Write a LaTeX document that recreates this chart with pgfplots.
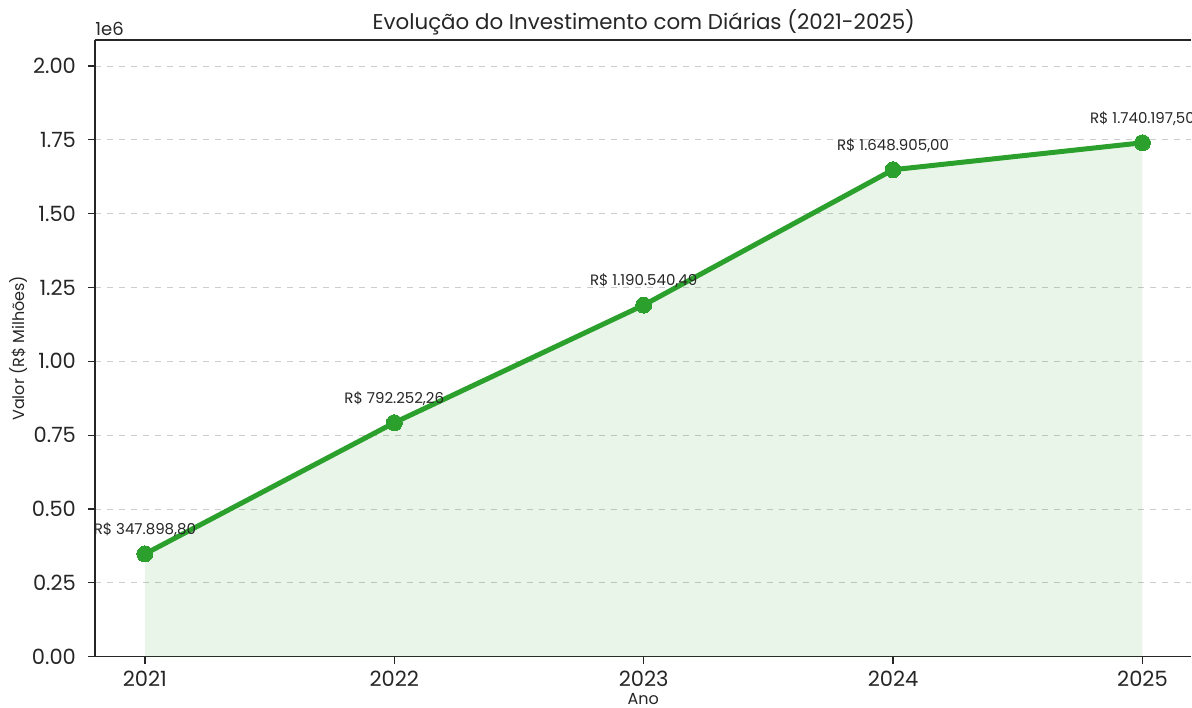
\documentclass[border=0pt]{standalone}
\usepackage{fontspec}
\setmainfont{Poppins}
\usepackage{pgfplots}
\pgfplotsset{compat=1.18}
\definecolor{lgreen}{HTML}{2CA02C}
\begin{document}
\begin{tikzpicture}
% fixed page frame
\path (0,0) rectangle (596pt,354pt);
\begin{axis}[
  at={(47.5pt,25.5pt)}, anchor=south west,
  scale only axis, width=548.5pt, height=308.5pt,
  xmin=2020.7996, xmax=2025.1964, ymin=0, ymax=2088237,
  axis x line*=bottom, axis y line*=left,
  xtick={2021,2022,2023,2024,2025},
  xticklabels={2021,2022,2023,2024,2025},
  ytick={0,250000,500000,750000,1000000,1250000,1500000,1750000,2000000},
  yticklabels={0.00,0.25,0.50,0.75,1.00,1.25,1.50,1.75,2.00},
  scaled y ticks=false,
  /pgf/number format/assume math mode=true,
  ymajorgrids,
  grid style={black!20, dashed, line width=0.5pt},
  tick align=outside, major tick length=3.5pt,
  tick style={black!85, line width=0.6pt},
  axis line style={-, black!85, line width=0.6pt},
  ticklabel style={font=\fontsize{10.5}{12}\selectfont, text=black!85},
  yticklabel style={xshift=-2.5pt},
  title={Evolução do Investimento com Diárias (2021-2025)},
  title style={font=\fontsize{10.7}{13}\selectfont, at={(axis description cs:0.5,1)}, xshift=0.3pt, anchor=center, yshift=3pt, text=black!85},
  xlabel={Ano}, ylabel={Valor (R\$ Milhões)},
  label style={font=\fontsize{8}{10}\selectfont, text=black!85},
  xlabel style={at={(axis description cs:0.5,-0.069)}, anchor=center, inner sep=0pt},
  ylabel style={at={(axis description cs:-0.0697,0.5)}, anchor=center},
  clip=false,
]
% area under the line
\addplot[fill=lgreen, fill opacity=0.1, draw=none] coordinates {
  (2021,347898.80) (2022,792252.26) (2023,1190540.49) (2024,1648905.00) (2025,1740197.50)
} \closedcycle;
% value labels
\addplot[draw=none, mark=none, nodes near coords, point meta=explicit symbolic,
  nodes near coords style={overlay, font=\fontsize{7.5}{8}\selectfont, text=black!85, anchor=center, yshift=12pt}]
  coordinates {
  (2021,347898.80) [R\$ 347.898,80]
  (2022,792252.26) [R\$ 792.252,26]
  (2023,1190540.49) [R\$ 1.190.540,49]
  (2024,1648905.00) [R\$ 1.648.905,00]
  (2025,1740197.50) [R\$ 1.740.197,50]
};
% main line
\addplot[lgreen, line width=2.5pt, mark=*, mark size=4pt, mark options={fill=lgreen, draw=lgreen, line width=0pt}] coordinates {
  (2021,347898.80) (2022,792252.26) (2023,1190540.49) (2024,1648905.00) (2025,1740197.50)
};
% top spine (right spine lies outside the picture)
\draw[overlay, black!85, line width=0.6pt] (rel axis cs:0,1) -- (rel axis cs:1,1);
\node[anchor=south west, font=\fontsize{9}{10}\selectfont, text=black!85, inner sep=0pt] at (rel axis cs:0,1) [yshift=2pt] {1e6};
\end{axis}
\end{tikzpicture}
\end{document}
